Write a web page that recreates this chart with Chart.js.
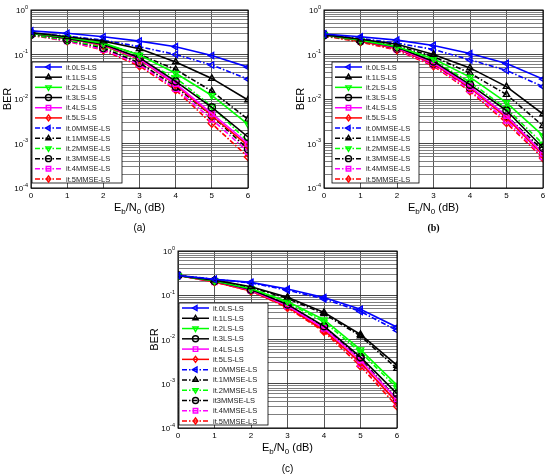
<!DOCTYPE html>
<html>
<head>
<meta charset="utf-8">
<script src="https://cdn.jsdelivr.net/npm/chart.js@4.4.0/dist/chart.umd.min.js"></script>
<style>
  body { margin: 0; background: #fff; width: 550px; height: 474px; overflow: hidden; position: relative; }
  .panel { position: absolute; }
</style>
</head>
<body>
<div class="panel" style="left:0;top:0;width:270px;height:240px"><canvas id="chart_a"></canvas></div>
<div class="panel" style="left:275px;top:0;width:275px;height:240px"><canvas id="chart_b"></canvas></div>
<div class="panel" style="left:140px;top:240px;width:275px;height:234px"><canvas id="chart_c"></canvas></div>
<script>
// Eb/N0 in dB
const ebn0 = [0, 1, 2, 3, 4, 5, 6];

const namesAB = ['it.0LS-LS', 'it.1LS-LS', 'it.2LS-LS', 'it.3LS-LS', 'it.4LS-LS', 'it.5LS-LS',
  'it.0MMSE-LS', 'it.1MMSE-LS', 'it.2MMSE-LS', 'it.3MMSE-LS', 'it.4MMSE-LS', 'it.5MMSE-LS'];
const namesC = ['it.0LS-LS', 'it.1LS-LS', 'it.2LS-LS', 'it.3LS-LS', 'it.4LS-LS', 'it.5LS-LS',
  'it.0MMSE-LS', 'it.1MMSE-LS', 'it.2MMSE-LS', 'it3MMSE-LS', 'it.4MMSE-LS', 'it.5MMSE-LS'];

// (a) BER, rows = iteration 0..5
const aLS = [
  [0.34, 0.30, 0.25, 0.20, 0.15, 0.095, 0.052],
  [0.31, 0.25, 0.20, 0.135, 0.068, 0.029, 0.0095],
  [0.30, 0.24, 0.18, 0.097, 0.038, 0.012, 0.0027],
  [0.30, 0.23, 0.17, 0.085, 0.025, 0.0065, 0.0014],
  [0.30, 0.23, 0.165, 0.080, 0.022, 0.0047, 0.0010],
  [0.30, 0.23, 0.16, 0.078, 0.021, 0.0042, 0.0009]
];
const aMMSE = [
  [0.30, 0.26, 0.21, 0.15, 0.10, 0.058, 0.028],
  [0.29, 0.23, 0.17, 0.10, 0.046, 0.015, 0.0035],
  [0.28, 0.21, 0.15, 0.075, 0.030, 0.0068, 0.0011],
  [0.28, 0.21, 0.14, 0.065, 0.019, 0.0042, 0.00075],
  [0.28, 0.20, 0.13, 0.060, 0.017, 0.0035, 0.00065],
  [0.27, 0.20, 0.125, 0.055, 0.016, 0.0028, 0.0005]
];

// (b)
const bLS = [
  [0.29, 0.25, 0.21, 0.16, 0.105, 0.063, 0.028],
  [0.28, 0.22, 0.17, 0.10, 0.050, 0.019, 0.0046],
  [0.28, 0.21, 0.15, 0.080, 0.031, 0.0083, 0.0015],
  [0.28, 0.21, 0.145, 0.070, 0.021, 0.0055, 0.0008],
  [0.28, 0.21, 0.14, 0.065, 0.019, 0.0042, 0.0006],
  [0.28, 0.20, 0.135, 0.062, 0.018, 0.0038, 0.00055]
];
const bMMSE = [
  [0.28, 0.23, 0.18, 0.13, 0.076, 0.044, 0.019],
  [0.27, 0.21, 0.155, 0.090, 0.038, 0.0126, 0.0025],
  [0.27, 0.20, 0.14, 0.072, 0.024, 0.0061, 0.00098],
  [0.27, 0.20, 0.135, 0.062, 0.018, 0.0042, 0.0007],
  [0.27, 0.20, 0.13, 0.058, 0.016, 0.0033, 0.0005],
  [0.26, 0.19, 0.125, 0.055, 0.015, 0.0029, 0.00047]
];

// (c)
const cLS = [
  [0.28, 0.23, 0.195, 0.138, 0.089, 0.048, 0.019],
  [0.28, 0.22, 0.155, 0.090, 0.041, 0.013, 0.0026],
  [0.28, 0.21, 0.14, 0.072, 0.028, 0.0059, 0.00093],
  [0.28, 0.21, 0.135, 0.062, 0.020, 0.0040, 0.0006],
  [0.28, 0.21, 0.13, 0.058, 0.018, 0.0034, 0.00045],
  [0.28, 0.20, 0.125, 0.055, 0.016, 0.0030, 0.00038]
];
const cMMSE = [
  [0.28, 0.23, 0.19, 0.13, 0.083, 0.043, 0.016],
  [0.28, 0.22, 0.15, 0.085, 0.038, 0.012, 0.0022],
  [0.28, 0.21, 0.14, 0.068, 0.025, 0.0052, 0.0008],
  [0.28, 0.21, 0.13, 0.060, 0.019, 0.0037, 0.00045],
  [0.28, 0.20, 0.13, 0.056, 0.017, 0.0028, 0.00038],
  [0.28, 0.20, 0.125, 0.052, 0.015, 0.0025, 0.00031]
];

const colors = ['#0000ff', '#000000', '#00ff00', '#000000', '#ff00ff', '#ff0000'];
const markers = [['triangle', -90], ['triangle', 0], ['triangle', 180], ['circle', 0], ['rect', 0], ['rectRot', 0]];
const mmseDash = [5, 2, 1.5, 2];
const FONT = '"Liberation Sans", Arial, sans-serif';

function makeSets(ls, mmse, names) {
  const sets = [];
  [ls, mmse].forEach((group, g) => {
    group.forEach((vals, i) => {
      sets.push({
        label: names[g * 6 + i],
        data: vals.map((v, k) => ({ x: ebn0[k], y: v })),
        borderColor: colors[i],
        backgroundColor: colors[i],
        borderWidth: 1.6,
        borderDash: g ? mmseDash : [],
        pointStyle: markers[i][0],
        pointRotation: markers[i][1],
        pointRadius: 3.6,
        pointBorderWidth: 1.4,
        pointBorderColor: colors[i],
        pointBackgroundColor: 'rgba(0,0,0,0)',
        tension: 0
      });
    });
  });
  return sets;
}

function isDecade(v) {
  const e = Math.log10(v);
  return Math.abs(e - Math.round(e)) < 1e-6;
}

function marker(ctx, style, rot, x, y, r) {
  ctx.save();
  ctx.translate(x, y);
  ctx.rotate(rot * Math.PI / 180);
  ctx.beginPath();
  if (style === 'circle') ctx.arc(0, 0, r, 0, 2 * Math.PI);
  else if (style === 'triangle') { ctx.moveTo(0, -r); ctx.lineTo(r * 0.87, r * 0.5); ctx.lineTo(-r * 0.87, r * 0.5); ctx.closePath(); }
  else if (style === 'rect') ctx.rect(-r * 0.75, -r * 0.75, r * 1.5, r * 1.5);
  else { ctx.moveTo(0, -r); ctx.lineTo(r * 0.75, 0); ctx.lineTo(0, r); ctx.lineTo(-r * 0.75, 0); ctx.closePath(); }
  ctx.restore();
  ctx.stroke();
}

// frame, y tick labels with exponents, titles, panel label and legend box
const panelDeco = {
  id: 'panelDeco',
  afterDraw(chart, args, opts) {
    const { ctx, chartArea: ca, scales } = chart;
    ctx.save();
    ctx.strokeStyle = '#000';
    ctx.lineWidth = 1;
    ctx.strokeRect(ca.left, ca.top, ca.right - ca.left, ca.bottom - ca.top);

    ctx.fillStyle = '#000';
    ctx.textBaseline = 'middle';
    ctx.textAlign = 'left';
    scales.y.ticks.forEach(t => {
      if (!isDecade(t.value)) return;
      const py = scales.y.getPixelForValue(t.value);
      const exp = String(Math.round(Math.log10(t.value)));
      ctx.font = '8px ' + FONT;
      const w1 = ctx.measureText('10').width;
      ctx.font = '5.5px ' + FONT;
      const w2 = ctx.measureText(exp).width;
      const x0 = ca.left - 3 - w1 - w2;
      ctx.font = '8px ' + FONT;
      ctx.fillText('10', x0, py + 1);
      ctx.font = '5.5px ' + FONT;
      ctx.fillText(exp, x0 + w1, py - 3);
    });

    // y title
    ctx.save();
    ctx.translate(ca.left - 23, (ca.top + ca.bottom) / 2);
    ctx.rotate(-Math.PI / 2);
    ctx.textAlign = 'center';
    ctx.font = '11px ' + FONT;
    ctx.fillText('BER', 0, 0);
    ctx.restore();

    // x title with subscripts
    const parts = [['E', 11, 0], ['b', 8, 3], ['/N', 11, 0], ['0', 8, 3], [' (dB)', 11, 0]];
    let total = 0;
    parts.forEach(p => { ctx.font = p[1] + 'px ' + FONT; total += ctx.measureText(p[0]).width; });
    let tx = (ca.left + ca.right) / 2 - total / 2;
    const ty = ca.bottom + 23;
    ctx.textBaseline = 'alphabetic';
    parts.forEach(p => {
      ctx.font = p[1] + 'px ' + FONT;
      ctx.fillText(p[0], tx, ty + p[2]);
      tx += ctx.measureText(p[0]).width;
    });

    // panel label
    ctx.textAlign = 'center';
    ctx.textBaseline = 'middle';
    ctx.font = opts.labelFont;
    ctx.fillText(opts.label, (ca.left + ca.right) / 2, ca.bottom + opts.labelDy);

    // legend
    const lg = opts.legend;
    const x0 = ca.left + lg.dx, y0 = ca.top + lg.dy;
    ctx.fillStyle = '#fff';
    ctx.fillRect(x0, y0, lg.w, lg.h);
    ctx.strokeStyle = '#000';
    ctx.lineWidth = 0.8;
    ctx.strokeRect(x0, y0, lg.w, lg.h);
    const n = chart.data.datasets.length;
    const step = (lg.h - 9) / (n - 1);
    chart.data.datasets.forEach((ds, i) => {
      const y = y0 + 5 + i * step;
      ctx.strokeStyle = ds.borderColor;
      ctx.lineWidth = 1.5;
      ctx.setLineDash(ds.borderDash);
      ctx.beginPath();
      ctx.moveTo(x0 + 3, y);
      ctx.lineTo(x0 + 30, y);
      ctx.stroke();
      ctx.setLineDash([]);
      ctx.lineWidth = 1.4;
      marker(ctx, ds.pointStyle, ds.pointRotation, x0 + 16.5, y, 3);
      ctx.fillStyle = '#222';
      ctx.textAlign = 'left';
      ctx.font = '7.5px ' + FONT;
      ctx.fillText(ds.label, x0 + 34, y + 0.5);
    });
    ctx.restore();
  }
};

function makeChart(id, ls, mmse, names, geo) {
  return new Chart(document.getElementById(id), {
    type: 'line',
    data: { datasets: makeSets(ls, mmse, names) },
    plugins: [panelDeco],
    options: {
      responsive: true,
      maintainAspectRatio: false,
      animation: false,
      layout: { padding: { top: geo.top, right: geo.right, left: 0, bottom: 0 } },
      plugins: {
        legend: { display: false },
        tooltip: { enabled: false },
        panelDeco: { label: geo.label, labelFont: geo.labelFont, labelDy: geo.labelDy, legend: geo.legend }
      },
      scales: {
        x: {
          type: 'linear', min: 0, max: 6,
          ticks: { stepSize: 1, color: '#000', padding: 3, font: { family: FONT, size: 8 } },
          grid: { color: '#444', lineWidth: 0.9, drawTicks: false },
          border: { display: false },
          afterFit(scale) { scale.height = geo.xh; }
        },
        y: {
          type: 'logarithmic', min: 1e-4, max: 1,
          afterBuildTicks(scale) {
            const t = [];
            const e0 = Math.round(Math.log10(scale.min)), e1 = Math.round(Math.log10(scale.max));
            for (let e = e0; e < e1; e++) {
              for (let m = 1; m < 10; m++) t.push({ value: m * Math.pow(10, e) });
            }
            t.push({ value: scale.max });
            scale.ticks = t;
          },
          afterFit(scale) { scale.width = geo.yw; },
          ticks: { display: false },
          grid: { color: c => isDecade(c.tick.value) ? '#333' : '#707070', lineWidth: 0.9, drawTicks: false },
          border: { display: false }
        }
      }
    }
  });
}

makeChart('chart_a', aLS, aMMSE, namesAB, {
  top: 10, right: 22, yw: 31, xh: 52, label: '(a)', labelDy: 40,
  labelFont: '10px ' + FONT, legend: { dx: 1, dy: 52, w: 90, h: 121 }
});
makeChart('chart_b', bLS, bMMSE, namesAB, {
  top: 10, right: 7, yw: 49, xh: 52, label: '(b)', labelDy: 40,
  labelFont: 'bold 10px "Liberation Serif", serif', legend: { dx: 8, dy: 52, w: 87, h: 121 }
});
makeChart('chart_c', cLS, cMMSE, namesC, {
  top: 11, right: 18, yw: 38, xh: 46, label: '(c)', labelDy: 41,
  labelFont: '10px ' + FONT, legend: { dx: 1, dy: 52, w: 89, h: 122 }
});
</script>
</body>
</html>
